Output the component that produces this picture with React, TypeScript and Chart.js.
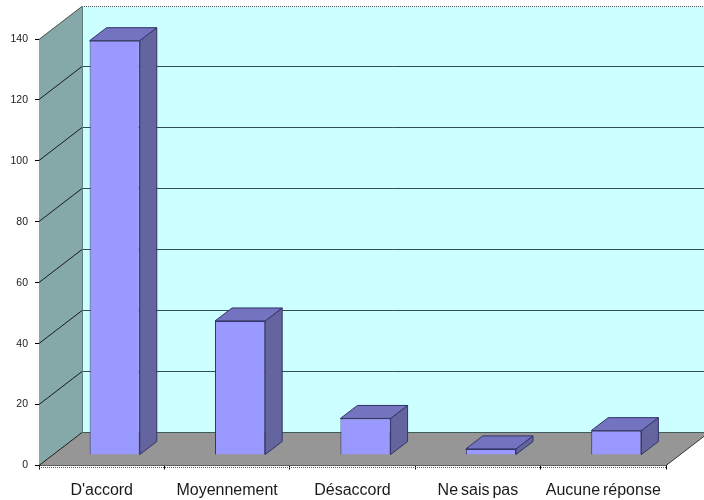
import React, { useEffect, useRef } from "react";
import { Chart, registerables } from "chart.js";

Chart.register(...registerables);

const categories = ["D'accord", "Moyennement", "Désaccord", "Ne sais pas", "Aucune réponse"];
const responses = [136, 44, 12, 2, 8];
const yMax = 140;
const yStep = 20;

const WALL_DX = 43;
const WALL_DY = 33;
const BAR_DX = 17;
const BAR_DY = 13;
const BAR_SHIFT_X = 13;
const BAR_SHIFT_Y = 10.5;

function poly(ctx: CanvasRenderingContext2D, pts: number[][], fill: string | null, stroke: string | null, lw = 1) {
  ctx.beginPath();
  pts.forEach((p, i) => (i ? ctx.lineTo(p[0], p[1]) : ctx.moveTo(p[0], p[1])));
  ctx.closePath();
  if (fill) {
    ctx.fillStyle = fill;
    ctx.fill();
  }
  if (stroke) {
    ctx.strokeStyle = stroke;
    ctx.lineWidth = lw;
    ctx.stroke();
  }
}

const threeD = {
  id: "threeD",
  beforeDraw(chart: any) {
    chart.ctx.wordSpacing = "-1.5px";
  },
  afterDatasetsUpdate(chart: any) {
    chart.getDatasetMeta(0).data.forEach((el: any) => {
      el.x += BAR_SHIFT_X;
      el.y -= BAR_SHIFT_Y;
      el.base -= BAR_SHIFT_Y;
    });
  },
  beforeDatasetsDraw(chart: any) {
    const ctx: CanvasRenderingContext2D = chart.ctx;
    const { left, right, top, bottom } = chart.chartArea;
    const y = chart.scales.y;
    ctx.save();
    // back wall
    poly(ctx, [[left + WALL_DX, top - WALL_DY], [right + WALL_DX, top - WALL_DY], [right + WALL_DX, bottom - WALL_DY], [left + WALL_DX, bottom - WALL_DY]], "#CCFFFF", null);
    // left wall
    poly(ctx, [[left, top], [left + WALL_DX, top - WALL_DY], [left + WALL_DX, bottom - WALL_DY], [left, bottom]], "#85A8A8", null);
    // floor
    poly(ctx, [[left, bottom], [right, bottom], [right + WALL_DX, bottom - WALL_DY], [left + WALL_DX, bottom - WALL_DY]], "#969696", null);

    // gridlines
    y.ticks.forEach((t: any) => {
      const py = Math.round(y.getPixelForValue(t.value) - 0.5) + 0.5;
      const isTop = t.value === yMax;
      ctx.setLineDash(isTop ? [1, 1] : []);
      ctx.strokeStyle = isTop ? "#555555" : t.value === 0 ? "#3E5E5E" : "#2F4F4F";
      ctx.lineWidth = 1;
      ctx.beginPath();
      ctx.moveTo(left + WALL_DX, py - WALL_DY);
      ctx.lineTo(right + WALL_DX, py - WALL_DY);
      ctx.stroke();
      ctx.setLineDash([]);
      ctx.strokeStyle = isTop ? "#555555" : "#1A1A1A";
      ctx.beginPath();
      ctx.moveTo(left, py);
      ctx.lineTo(left + WALL_DX, py - WALL_DY);
      ctx.stroke();
    });
    // wall edges
    ctx.strokeStyle = "#5F7F7F";
    ctx.beginPath();
    ctx.moveTo(left + WALL_DX + 0.5, top - WALL_DY);
    ctx.lineTo(left + WALL_DX + 0.5, bottom - WALL_DY);
    ctx.stroke();
    ctx.strokeStyle = "#333333";
    ctx.beginPath();
    ctx.moveTo(right, bottom);
    ctx.lineTo(right + WALL_DX, bottom - WALL_DY);
    ctx.stroke();
    // dotted shadow of the floor's front edge
    ctx.strokeStyle = "#555555";
    ctx.setLineDash([1, 1]);
    ctx.beginPath();
    ctx.moveTo(left, Math.round(bottom) + 1.5);
    ctx.lineTo(right, Math.round(bottom) + 1.5);
    ctx.stroke();
    ctx.setLineDash([]);

    // bar top and side faces
    chart.getDatasetMeta(0).data.forEach((el: any) => {
      const l = el.x - el.width / 2;
      const r = el.x + el.width / 2;
      const t = el.y;
      const b = el.base;
      poly(ctx, [[r, t], [r + BAR_DX, t - BAR_DY], [r + BAR_DX, b - BAR_DY], [r, b]], "#64649F", "#333366");
      poly(ctx, [[l, t], [l + BAR_DX, t - BAR_DY], [r + BAR_DX, t - BAR_DY], [r, t]], "#7373BF", "#333366");
    });
    ctx.restore();
  },
};

export default function App() {
  const ref = useRef<HTMLCanvasElement>(null);
  useEffect(() => {
    const chart = new Chart(ref.current!, {
      type: "bar",
      data: {
        labels: categories,
        datasets: [
          {
            data: responses,
            backgroundColor: "#9999FF",
            borderColor: "#333366",
            borderWidth: 1,
            barPercentage: 0.4,
            categoryPercentage: 1,
          },
        ],
      },
      options: {
        animation: false,
        responsive: false,
        layout: { padding: { top: 39, right: 38, left: 0, bottom: 0 } },
        plugins: { legend: { display: false }, tooltip: { enabled: false } },
        scales: {
          x: {
            afterFit: (s: any) => {
              s.height = 34.5;
            },
            border: { color: "#222222", width: 1 },
            grid: { drawOnChartArea: false, color: "#000000", tickLength: 4, offset: true },
            ticks: {
              color: "#1A1A1A",
              font: { family: "Liberation Sans", size: 16 },
              maxRotation: 0,
              autoSkip: false,
              padding: 11,
            },
          },
          y: {
            min: 0,
            max: yMax,
            afterFit: (s: any) => {
              s.width = 39;
            },
            border: { color: "#3F5F5F", width: 1 },
            grid: { drawOnChartArea: false, color: "#000000", tickLength: 4 },
            ticks: {
              stepSize: yStep,
              color: "#1A1A1A",
              font: { family: "Liberation Sans", size: 10.5 },
              padding: 7,
            },
          },
        },
      },
      plugins: [threeD],
    } as any);
    return () => chart.destroy();
  }, []);
  return (
    <canvas
      ref={ref}
      width={704}
      height={500}
      style={{ position: "absolute", left: 0, top: 0, display: "block", background: "#FFFFFF" }}
    />
  );
}
